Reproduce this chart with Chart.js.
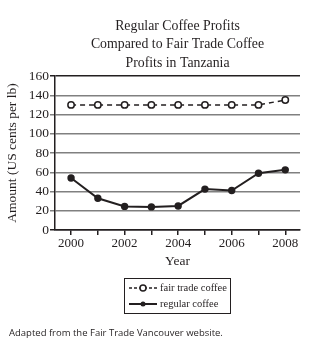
<!DOCTYPE html>
<html>
<head>
<meta charset="utf-8">
<script src="https://cdn.jsdelivr.net/npm/chart.js@4"></script>
<style>
  html, body { margin: 0; padding: 0; background: #fff; }
  #wrap { width: 317px; height: 345px; position: relative; }
</style>
</head>
<body>
<div id="wrap"><canvas id="canvasCafe"></canvas></div>
<script>
var years = [2000, 2001, 2002, 2003, 2004, 2005, 2006, 2007, 2008];
var fairTrade = [130, 130, 130, 130, 130, 130, 130, 130, 135];
var regular = [54, 33, 24.5, 24, 25, 42.5, 41, 59, 62.5];
var yTicks = [0, 20, 40, 60, 80, 100, 120, 140, 160];
var titleLines = ['Regular Coffee Profits', 'Compared to Fair Trade Coffee', 'Profits in Tanzania'];
var footer = 'Adapted from the Fair Trade Vancouver website.';

var serif = '"Liberation Serif", "DejaVu Serif", serif';

function puntos(valores) {
  var arr = [];
  for (var i = 0; i < years.length; i++) {
    arr.push({ x: years[i], y: valores[i] });
  }
  return arr;
}

// titulo, leyenda y nota al pie
var extras = {
  id: 'extras',
  afterDraw: function (chart) {
    var ctx = chart.ctx;
    var area = chart.chartArea;
    var cx = (area.left + area.right) / 2;
    ctx.save();
    ctx.fillStyle = '#231f20';
    ctx.font = '13.8px ' + serif;
    ctx.textAlign = 'center';
    ctx.textBaseline = 'middle';
    for (var i = 0; i < titleLines.length; i++) {
      ctx.fillText(titleLines[i], cx, 26 + i * 18.5);
    }

    // leyenda
    var bx = 124, by = 278, bw = 106, bh = 35;
    ctx.strokeStyle = '#231f20';
    ctx.lineWidth = 1;
    ctx.strokeRect(bx + 0.5, by + 0.5, bw, bh);

    ctx.lineWidth = 1.5;
    ctx.setLineDash([3, 2]);
    ctx.beginPath();
    ctx.moveTo(bx + 5, by + 10);
    ctx.lineTo(bx + 33, by + 10);
    ctx.stroke();
    ctx.setLineDash([]);
    ctx.fillStyle = '#fff';
    ctx.beginPath();
    ctx.arc(bx + 19, by + 10, 3, 0, Math.PI * 2);
    ctx.fill();
    ctx.stroke();

    ctx.lineWidth = 2;
    ctx.beginPath();
    ctx.moveTo(bx + 5, by + 26);
    ctx.lineTo(bx + 33, by + 26);
    ctx.stroke();
    ctx.fillStyle = '#231f20';
    ctx.beginPath();
    ctx.arc(bx + 19, by + 26, 2.5, 0, Math.PI * 2);
    ctx.fill();

    ctx.font = '10.5px ' + serif;
    ctx.textAlign = 'left';
    ctx.fillText('fair trade coffee', bx + 36, by + 10);
    ctx.fillText('regular coffee', bx + 36, by + 26);

    ctx.font = '9.5px "Open Sans", "Noto Sans", sans-serif';
    ctx.fillText(footer, 9, 333);
    ctx.restore();
  }
};

var ctx = document.getElementById('canvasCafe').getContext('2d');

window.myChart = new Chart(ctx, {
  type: 'line',
  data: {
    datasets: [
      {
        label: 'fair trade coffee',
        data: puntos(fairTrade),
        borderColor: '#231f20',
        backgroundColor: '#ffffff',
        borderWidth: 1.5,
        borderDash: [5, 4],
        pointRadius: 3.2,
        pointBorderWidth: 1.5,
        pointBackgroundColor: '#ffffff',
        pointBorderColor: '#231f20',
        tension: 0
      },
      {
        label: 'regular coffee',
        data: puntos(regular),
        borderColor: '#231f20',
        backgroundColor: '#231f20',
        borderWidth: 2,
        pointRadius: 2.7,
        pointBackgroundColor: '#231f20',
        pointBorderColor: '#231f20',
        tension: 0
      }
    ]
  },
  options: {
    responsive: true,
    maintainAspectRatio: false,
    animation: false,
    layout: { padding: { left: 0, right: 17, top: 76, bottom: 75 } },
    plugins: {
      legend: { display: false },
      title: { display: false },
      tooltip: { enabled: false }
    },
    scales: {
      x: {
        type: 'linear',
        min: 1999.4,
        max: 2008.55,
        afterBuildTicks: function (scale) {
          scale.ticks = years.map(function (v) { return { value: v }; });
        },
        afterFit: function (scale) { scale.height = 40; },
        border: { color: '#231f20', width: 1.5 },
        grid: {
          drawOnChartArea: false,
          drawTicks: true,
          tickLength: 5,
          color: '#231f20',
          lineWidth: 1.5
        },
        ticks: {
          color: '#231f20',
          padding: 1,
          maxRotation: 0,
          autoSkip: false,
          font: { family: serif, size: 13 },
          callback: function (v) { return v % 2 === 0 ? String(v) : ''; }
        },
        title: {
          display: true,
          text: 'Year',
          color: '#231f20',
          padding: { top: 1, bottom: 0 },
          font: { family: serif, size: 13.5 }
        }
      },
      y: {
        min: 0,
        max: 160,
        afterBuildTicks: function (scale) {
          scale.ticks = yTicks.map(function (v) { return { value: v }; });
        },
        afterFit: function (scale) { scale.width = 55; },
        border: { color: '#231f20', width: 1.5 },
        grid: {
          color: function (c) {
            return (c.tick && (c.tick.value === 160 || c.tick.value === 0)) ? '#231f20' : '#808080';
          },
          lineWidth: 1.5,
          tickLength: 5
        },
        ticks: {
          color: '#231f20',
          padding: 1,
          autoSkip: false,
          font: { family: serif, size: 13.5 }
        },
        title: {
          display: true,
          text: 'Amount (US cents per lb)',
          color: '#231f20',
          padding: { top: 4, bottom: 2 },
          font: { family: serif, size: 13.5 }
        }
      }
    }
  },
  plugins: [extras]
});
</script>
</body>
</html>
